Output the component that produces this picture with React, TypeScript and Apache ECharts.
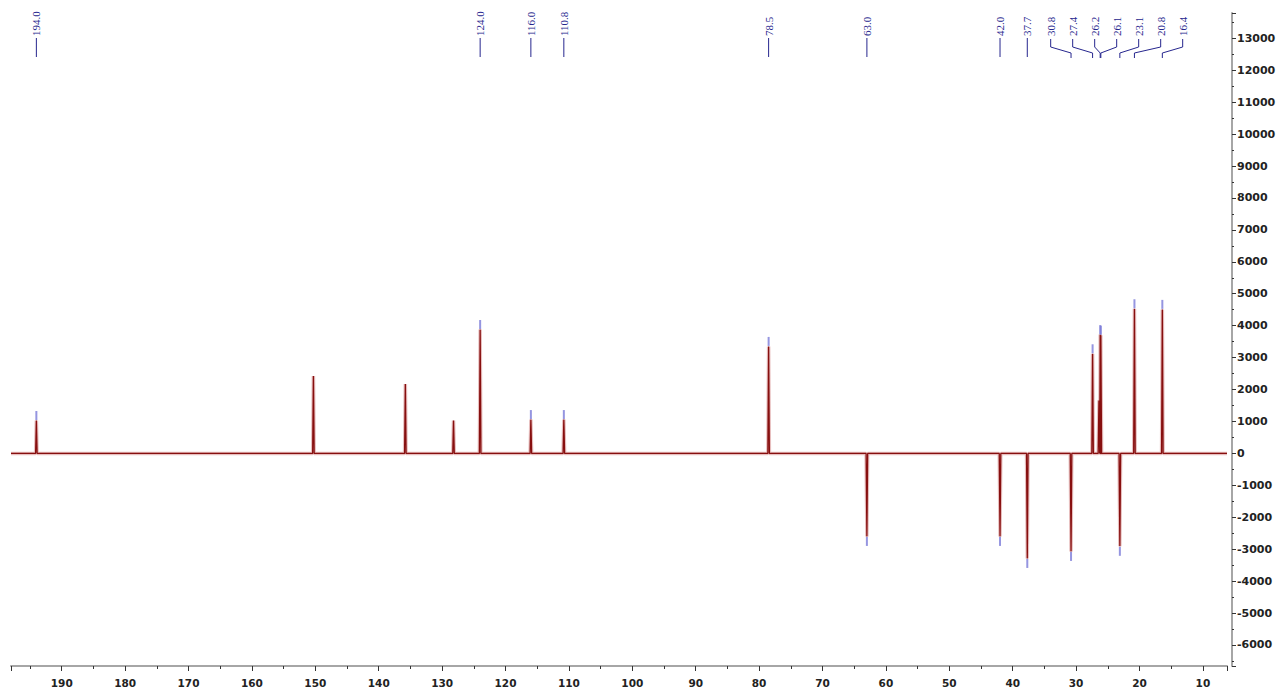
import React, { useEffect, useRef } from "react";
import * as echarts from "echarts";

// 13C / DEPT spectrum: chemical shifts (ppm) and signal intensities
const peakPpm = [194.0, 150.3, 135.8, 128.2, 124.0, 116.0, 110.8, 78.5, 63.0, 42.0, 37.7, 30.8, 27.4, 26.4, 26.2, 26.1, 23.1, 20.8, 16.4];
const peakHeight = [1030, 2420, 2170, 1030, 3880, 1060, 1060, 3350, -2600, -2600, -3290, -3070, 3120, 1660, 3720, 3700, -2910, 4530, 4510];
const peakLabels = ["194.0", "", "", "", "124.0", "116.0", "110.8", "78.5", "63.0", "42.0", "37.7", "30.8", "27.4", "", "26.2", "26.1", "23.1", "20.8", "16.4"];

const xTicks = [190, 180, 170, 160, 150, 140, 130, 120, 110, 100, 90, 80, 70, 60, 50, 40, 30, 20, 10];
const yTicks = [13000, 12000, 11000, 10000, 9000, 8000, 7000, 6000, 5000, 4000, 3000, 2000, 1000, 0, -1000, -2000, -3000, -4000, -5000, -6000];
const xExtent = [6.2, 198.0];
const yExtent = [-6658, 13792];

const PEAK_HALF_WIDTH = 0.12;
const LABEL_GAP = 22;
const LABEL_COLOR = "#26268e";

function buildSpectrum(): number[][] {
  const order = peakPpm.map((_, i) => i).sort((a, b) => peakPpm[b] - peakPpm[a]);
  const pts: number[][] = [[xExtent[1], 0]];
  order.forEach((i) => {
    const p = peakPpm[i];
    pts.push([p + PEAK_HALF_WIDTH, 0]);
    pts.push([p, peakHeight[i]]);
    pts.push([p - PEAK_HALF_WIDTH, 0]);
  });
  pts.push([xExtent[0], 0]);
  return pts;
}

export default function App() {
  const ref = useRef<HTMLDivElement>(null);

  useEffect(() => {
    if (!ref.current) return;
    const chart = echarts.init(ref.current, undefined, { renderer: "svg" });
    const spectrum = buildSpectrum();
    const markers = peakPpm
      .map((p, i) => ({ p, h: peakHeight[i], l: peakLabels[i] }))
      .filter((d) => d.l !== "")
      .map((d) => ({
        value: [d.p, d.h],
        symbolOffset: [0, d.h > 0 ? -5 : 5],
      }));

    const axisFont = { fontFamily: "DejaVu Sans", fontWeight: "bold" as const, color: "#222" };

    chart.setOption({
      animation: false,
      backgroundColor: "#ffffff",
      grid: { left: 11, right: 58, top: 13, bottom: 24, containLabel: false },
      xAxis: {
        type: "value",
        inverse: true,
        min: xExtent[0],
        max: xExtent[1],
        minInterval: 10,
        maxInterval: 10,
        position: "bottom",
        axisLine: { show: true, onZero: false, lineStyle: { color: "#a6a6a6", width: 2 } },
        axisTick: { show: true, length: 5, lineStyle: { color: "#333", width: 1 } },
        minorTick: { show: true, splitNumber: 2, length: 3, lineStyle: { color: "#333", width: 1 } },
        splitLine: { show: false },
        minorSplitLine: { show: false },
        axisLabel: {
          ...axisFont,
          fontSize: 10.5,
          margin: 11,
          showMinLabel: false,
          showMaxLabel: false,
          formatter: (v: number) => (xTicks.indexOf(Math.round(v * 1000) / 1000) >= 0 ? String(v) : ""),
        },
      },
      yAxis: {
        type: "value",
        position: "right",
        offset: 5,
        min: yExtent[0],
        max: yExtent[1],
        minInterval: 1000,
        maxInterval: 1000,
        axisLine: { show: true, onZero: false, lineStyle: { color: "#a6a6a6", width: 2 } },
        axisTick: { show: true, length: 4, lineStyle: { color: "#333", width: 1 } },
        minorTick: { show: true, splitNumber: 2, length: 2, lineStyle: { color: "#333", width: 1 } },
        splitLine: { show: false },
        minorSplitLine: { show: false },
        axisLabel: {
          ...axisFont,
          fontSize: 11,
          margin: 5,
          showMinLabel: false,
          showMaxLabel: false,
          formatter: (v: number) => (yTicks.indexOf(Math.round(v)) >= 0 ? String(v) : ""),
        },
      },
      series: [
        {
          type: "line",
          data: spectrum,
          symbol: "none",
          silent: true,
          lineStyle: { color: "rgba(185,70,70,0.35)", width: 3.5 },
          z: 1,
        },
        {
          type: "line",
          data: spectrum,
          symbol: "none",
          silent: true,
          lineStyle: { color: "#870f0f", width: 1.3 },
          z: 2,
        },
        {
          type: "scatter",
          data: markers,
          symbol: "rect",
          symbolSize: [2, 9],
          silent: true,
          itemStyle: { color: "#7a7ad8" },
          z: 3,
        },
      ],
    });

    // label layout at the top of the spectrum (clusters spread around their centre)
    type Item = { px: number; text: string };
    const items: Item[] = peakPpm
      .map((p, i) => ({ p, text: peakLabels[i] }))
      .filter((d) => d.text !== "")
      .map((d) => ({ px: chart.convertToPixel({ xAxisIndex: 0 }, d.p) as number, text: d.text }))
      .sort((a, b) => a.px - b.px);

    type Cluster = { items: Item[]; start: number };
    const place = (c: Cluster) => {
      const lo = c.items[0].px;
      const hi = c.items[c.items.length - 1].px;
      c.start = (lo + hi) / 2 - ((c.items.length - 1) * LABEL_GAP) / 2;
    };
    const clusters: Cluster[] = items.map((it) => ({ items: [it], start: it.px }));
    clusters.forEach(place);
    let merged = true;
    while (merged) {
      merged = false;
      for (let i = clusters.length - 1; i >= 1; i--) {
        const a = clusters[i - 1];
        const b = clusters[i];
        if (a.start + a.items.length * LABEL_GAP > b.start + 0.01) {
          a.items = a.items.concat(b.items);
          clusters.splice(i, 1);
          place(a);
          merged = true;
          break;
        }
      }
    }

    const graphics: any[] = [];
    clusters.forEach((c) => {
      c.items.forEach((it, k) => {
        const lx = c.items.length === 1 ? it.px : c.start + k * LABEL_GAP;
        graphics.push({
          type: "text",
          x: lx,
          y: 36,
          rotation: Math.PI / 2,
          silent: true,
          style: {
            text: it.text,
            x: 0,
            y: 0,
            fill: LABEL_COLOR,
            font: "11px 'Liberation Serif'",
            textAlign: "left",
            textVerticalAlign: "middle",
            align: "left",
            verticalAlign: "middle",
          },
        });
        if (c.items.length === 1) {
          graphics.push({
            type: "line",
            silent: true,
            shape: { x1: lx, y1: 38, x2: lx, y2: 57 },
            style: { stroke: LABEL_COLOR, lineWidth: 1 },
          });
        } else {
          graphics.push({
            type: "polyline",
            silent: true,
            shape: { points: [[lx, 39], [lx, 47], [it.px, 53], [it.px, 58]] },
            style: { stroke: LABEL_COLOR, lineWidth: 1, fill: "none" },
          });
        }
      });
    });
    chart.setOption({ graphic: graphics });

    return () => chart.dispose();
  }, []);

  return (
    <div
      ref={ref}
      style={{ position: "absolute", left: 0, top: 0, width: 1285, height: 690, background: "#fff" }}
    />
  );
}
